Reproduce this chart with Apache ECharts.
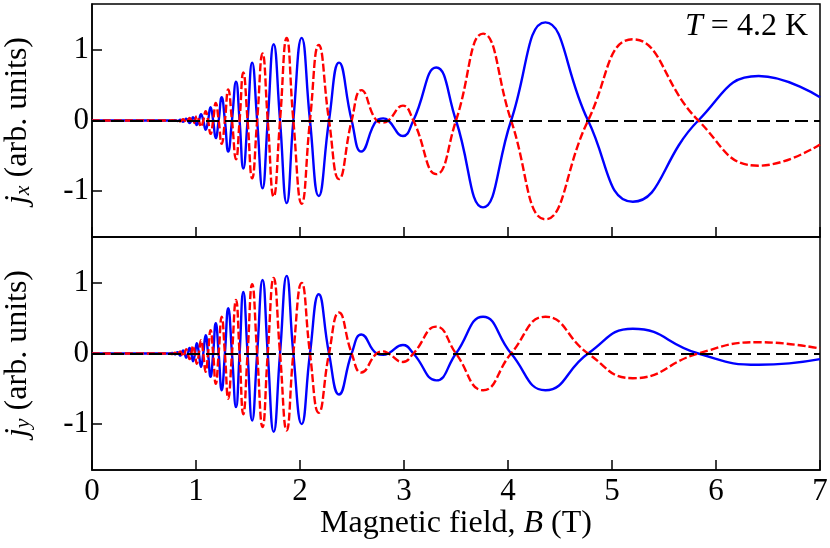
<!DOCTYPE html>
<html>
<head>
<meta charset="utf-8">
<script src="https://cdn.jsdelivr.net/npm/echarts@6/dist/echarts.min.js"></script>
<style>
  html, body { margin: 0; padding: 0; background: #fff; }
  #chart { width: 830px; height: 548px; }
</style>
</head>
<body>
<div id="chart"></div>
<script>
  // magnetic field B (T): extrema and zero crossings
  const field = [0, 0.74, 0.774, 0.785, 0.797, 0.809, 0.822, 0.835, 0.848, 0.862,
    0.876, 0.891, 0.906, 0.922, 0.938, 0.955, 0.972, 0.99, 1.008, 1.028,
    1.048, 1.07, 1.093, 1.116, 1.14, 1.165, 1.19, 1.218, 1.247, 1.278,
    1.31, 1.346, 1.385, 1.419, 1.455, 1.496, 1.54, 1.588, 1.64, 1.69,
    1.747, 1.808, 1.872, 1.936, 2.016, 2.096, 2.18, 2.279, 2.375, 2.497,
    2.59, 2.737, 2.80, 2.85, 2.99, 3.09, 3.31, 3.50, 3.76, 4.03,
    4.36, 4.77, 5.20, 5.83, 6.41, 7.0];

  // j_x, upper panel
  const jxBlue = [0, 0, -0.003, 0, 0.005, 0, -0.008, 0, 0.012, 0,
    -0.018, 0, 0.026, 0, -0.035, 0, 0.048, 0, -0.065, 0,
    0.09, 0, -0.13, 0, 0.19, 0, -0.25, 0, 0.33, 0,
    -0.44, 0, 0.55, 0, -0.68, 0, 0.82, 0, -0.96, 0,
    1.08, 0, -1.17, 0, 1.17, 0, -1.07, 0, 0.82, 0,
    -0.44, 0, 0.03, 0, -0.22, 0, 0.75, 0, -1.23, 0,
    1.39, 0, -1.15, 0, 0.63, 0.33];
  const jxRed = [0, 0, 0.003, 0, -0.005, 0, 0.008, 0, -0.012, 0,
    0.018, 0, -0.026, 0, 0.035, 0, -0.048, 0, 0.065, 0,
    -0.09, 0, 0.13, 0, -0.19, 0, 0.25, 0, -0.33, 0,
    0.44, 0, -0.55, 0, 0.68, 0, -0.82, 0, 0.95, 0,
    -1.08, 0, 1.17, 0, -1.18, 0, 1.07, 0, -0.83, 0,
    0.43, 0, -0.03, 0, 0.21, 0, -0.76, 0, 1.23, 0,
    -1.40, 0, 1.15, 0, -0.64, -0.34];

  // j_y, lower panel
  const jyBlue = [0, 0, 0.007, 0, -0.012, 0, 0.02, 0, -0.03, 0,
    0.043, 0, -0.06, 0, 0.08, 0, -0.11, 0, 0.145, 0,
    -0.19, 0, 0.26, 0, -0.33, 0, 0.43, 0, -0.52, 0,
    0.64, 0, -0.76, 0, 0.87, 0, -0.95, 0, 1.04, 0,
    -1.11, 0, 1.10, 0, -1.00, 0, 0.84, 0, -0.58, 0,
    0.27, 0, -0.02, 0, 0.12, 0, -0.38, 0, 0.52, 0,
    -0.52, 0, 0.35, 0, -0.16, -0.08];
  const jyRed = [0, 0, -0.007, 0, 0.012, 0, -0.02, 0, 0.03, 0,
    -0.043, 0, 0.06, 0, -0.08, 0, 0.11, 0, -0.145, 0,
    0.19, 0, -0.26, 0, 0.33, 0, -0.43, 0, 0.52, 0,
    -0.64, 0, 0.76, 0, -0.86, 0, 0.98, 0, -1.04, 0,
    1.07, 0, -1.09, 0, 1.00, 0, -0.84, 0, 0.58, 0,
    -0.27, 0, 0.03, 0, -0.12, 0, 0.38, 0, -0.52, 0,
    0.52, 0, -0.35, 0, 0.16, 0.07];

  const xTicks = [0, 1, 2, 3, 4, 5, 6, 7];
  const yTicks = [-1, 0, 1];

  const font = '"Liberation Serif", "Times New Roman", serif';
  const pairs = (ys) => field.map((b, i) => [b, ys[i]]);

  const rich = {
    i: { fontFamily: font, fontSize: 32, fontStyle: 'italic', color: '#000' },
    s: { fontFamily: font, fontSize: 22, fontStyle: 'italic', color: '#000', verticalAlign: 'bottom', lineHeight: 12 }
  };

  const tickStyle = { color: '#000', width: 1.5 };

  const xAxisBase = (grid, showLabel) => ({
    gridIndex: grid,
    type: 'value',
    min: xTicks[0],
    max: xTicks[xTicks.length - 1],
    interval: 1,
    axisLine: { show: true, onZero: false, lineStyle: tickStyle },
    splitLine: { show: false },
    axisTick: { inside: true, length: 10, lineStyle: tickStyle },
    axisLabel: { show: showLabel, fontFamily: font, fontSize: 31, color: '#000', margin: 6 }
  });

  const yAxisBase = (grid, sub) => ({
    gridIndex: grid,
    type: 'value',
    min: -1.65,
    max: 1.65,
    axisLine: { show: true, onZero: false, lineStyle: tickStyle },
    splitLine: { show: false },
    axisTick: { show: true, inside: true, length: 10, customValues: yTicks, lineStyle: tickStyle },
    axisLabel: { customValues: yTicks, fontFamily: font, fontSize: 31, color: '#000', margin: 3 },
    name: '{i|j}{s|' + sub + '} (arb. units)',
    nameLocation: 'middle',
    nameRotate: 90,
    nameGap: 58,
    nameTextStyle: { fontFamily: font, fontSize: 32, color: '#000', rich: rich }
  });

  const zeroLine = (grid) => ({
    type: 'line',
    xAxisIndex: grid,
    yAxisIndex: grid,
    data: [],
    z: 1,
    silent: true,
    markLine: {
      silent: true,
      symbol: 'none',
      label: { show: false },
      lineStyle: { color: '#000', width: 2, type: [13, 6] },
      data: [{ yAxis: 0 }]
    }
  });

  const curve = (grid, ys, color, dashed, z) => ({
    type: 'line',
    xAxisIndex: grid,
    yAxisIndex: grid,
    data: pairs(ys),
    showSymbol: false,
    smooth: true,
    z: z,
    lineStyle: { color: color, width: 2.4, type: dashed ? [8, 3] : 'solid' }
  });

  const gridBase = (top) => ({
    left: 92, right: 10, top: top, height: 233,
    outerBoundsMode: 'none',
    containLabel: false,
    show: true, borderColor: '#000', borderWidth: 1.5
  });

  const chart = echarts.init(document.getElementById('chart'));
  chart.setOption({
    animation: false,
    backgroundColor: '#fff',
    title: {
      text: '{i|T} = 4.2 K',
      right: 17,
      top: 6,
      textStyle: { fontFamily: font, fontSize: 32, fontWeight: 'normal', color: '#000', rich: rich }
    },
    grid: [gridBase(4), gridBase(237)],
    xAxis: [
      xAxisBase(0, false),
      Object.assign(xAxisBase(1, true), {
        name: 'Magnetic field, {i|B} (T)',
        nameLocation: 'middle',
        nameGap: 37,
        nameTextStyle: { fontFamily: font, fontSize: 32, color: '#000', rich: rich }
      })
    ],
    yAxis: [yAxisBase(0, 'x'), yAxisBase(1, 'y')],
    series: [
      zeroLine(0),
      curve(0, jxBlue, '#0000ff', false, 2),
      curve(0, jxRed, '#ff0000', true, 3),
      zeroLine(1),
      curve(1, jyBlue, '#0000ff', false, 2),
      curve(1, jyRed, '#ff0000', true, 3)
    ]
  });
</script>
</body>
</html>
